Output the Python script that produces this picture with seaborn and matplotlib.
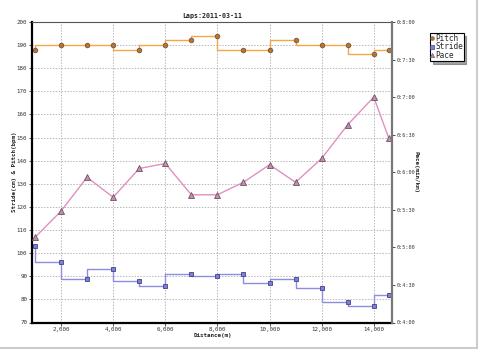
import matplotlib
matplotlib.use("Agg")
import matplotlib.pyplot as plt
import matplotlib.ticker as mticker
from matplotlib.lines import Line2D
import seaborn as sns
import pandas as pd

distance = [1000, 2000, 3000, 4000, 5000, 6000, 7000, 8000, 9000, 10000,
            11000, 12000, 13000, 14000, 14580]
pitch = [188, 190, 190, 190, 188, 190, 192, 194, 188, 188, 192, 190, 190, 186, 188]
stride = [103, 96, 89, 93, 88, 86, 91, 90, 91, 87, 89, 85, 79, 77, 82]
pace_sec = [308, 329, 356, 340, 363, 367, 342, 342, 352, 366, 352, 371, 398, 420, 387]

title = "Laps:2011-03-11"
xlabel = "Distance(m)"
ylabel_left = "Stride(cm) & Pitch(bpm)"
ylabel_right = "Pace(min/km)"

df = pd.DataFrame({"distance": distance, "pitch": pitch, "stride": stride, "pace": pace_sec})

sns.set_theme(style="white")
plt.rcParams["font.family"] = ["DejaVu Sans Mono", "DejaVu Sans"]

fig = plt.figure(figsize=(4.8, 3.51), dpi=100)
ax = fig.add_axes([32/480, 1-322.5/351, 360/480, 300.5/351])
ax2 = ax.twinx()

pitch_line = "#f0a848"
stride_line = "#8c8ce0"
pace_line = "#e090c0"

sns.lineplot(data=df, x="distance", y="pitch", ax=ax, drawstyle="steps-pre",
             color=pitch_line, lw=1.0, marker="o", markersize=3.3,
             markerfacecolor="#b07840", markeredgecolor="#805030", markeredgewidth=0.6)
sns.lineplot(data=df, x="distance", y="stride", ax=ax, drawstyle="steps-pre",
             color=stride_line, lw=1.0, marker="s", markersize=3.3,
             markerfacecolor="#8080d0", markeredgecolor="#404090", markeredgewidth=0.6)
sns.lineplot(data=df, x="distance", y="pace", ax=ax2,
             color=pace_line, lw=1.0, marker="^", markersize=3.8,
             markerfacecolor="#c090b0", markeredgecolor="#705060", markeredgewidth=0.6)

ax.set_xlim(885, 14700)
ax.set_ylim(70, 200)
ax2.set_ylim(240, 480)

ax.xaxis.set_major_locator(mticker.MultipleLocator(2000))
ax.xaxis.set_major_formatter(mticker.FuncFormatter(lambda v, p: f"{int(v):,}"))
ax.yaxis.set_major_locator(mticker.MultipleLocator(10))
ax2.yaxis.set_major_locator(mticker.MultipleLocator(30))
ax2.yaxis.set_major_formatter(mticker.FuncFormatter(
    lambda v, p: f"0:{int(v)//60}:{int(v)%60:02d}"))

ax.grid(True, color="#b8b8b8", linestyle=(0, (1.5, 1.5)), lw=0.7)
ax2.grid(False)

for a in (ax, ax2):
    a.tick_params(axis="both", labelsize=4.2, length=2, width=0.6, colors="#333333",
                  pad=1.5, direction="out")
    a.set_xlabel("")
    a.set_ylabel("")
ax2.tick_params(axis="y", labelsize=3.7, pad=1.0)
ax.tick_params(left=True, bottom=True)
ax2.tick_params(right=True)

ax.spines["left"].set_color("black"); ax.spines["left"].set_linewidth(1.6)
ax.spines["bottom"].set_color("black"); ax.spines["bottom"].set_linewidth(1.6)
ax.spines["top"].set_color("#555555"); ax.spines["top"].set_linewidth(0.8)
ax2.spines["right"].set_color("#777777"); ax2.spines["right"].set_linewidth(1.6)
ax2.spines["left"].set_visible(False)
ax2.spines["bottom"].set_visible(False)
ax2.spines["top"].set_visible(False)
ax.spines["right"].set_visible(False)

ax.set_title(title, fontsize=4.8, fontweight="bold", pad=3, color="#222222")
fig.text(213/480, 1-335/351, xlabel, fontsize=4.2, fontweight="bold", ha="center", va="center")
fig.text(15/480, 1-172/351, ylabel_left, fontsize=4.2, fontweight="bold", rotation=90,
         ha="center", va="center")
fig.text(416/480, 1-172/351, ylabel_right, fontsize=4.2, fontweight="bold", rotation=-90,
         ha="center", va="center")

handles = [
    Line2D([], [], ls="none", marker="o", markersize=2.6, markerfacecolor="#b07840",
           markeredgecolor="#805030", markeredgewidth=0.5),
    Line2D([], [], ls="none", marker="s", markersize=2.6, markerfacecolor="#8080d0",
           markeredgecolor="#404090", markeredgewidth=0.5),
    Line2D([], [], ls="none", marker="^", markersize=3.0, markerfacecolor="#c090b0",
           markeredgecolor="#705060", markeredgewidth=0.5),
]
leg = fig.legend(handles, ["Pitch", "Stride", "Pace"], loc="upper left",
                 bbox_to_anchor=(430/480, 1-33/351), fontsize=5.6, frameon=True,
                 fancybox=False, shadow=True, borderpad=0.1, labelspacing=-0.05,
                 handlelength=0.4, handletextpad=0.15, borderaxespad=0)
leg.get_frame().set_edgecolor("black")
leg.get_frame().set_linewidth(0.8)

fig.add_artist(Line2D([477/480, 477/480], [1-348/351, 1], color="#cccccc", lw=1.5,
                      transform=fig.transFigure))
fig.add_artist(Line2D([0, 477/480], [1-348/351, 1-348/351], color="#cccccc", lw=1.5,
                      transform=fig.transFigure))

fig.savefig("out.png", dpi=100, facecolor="white")
